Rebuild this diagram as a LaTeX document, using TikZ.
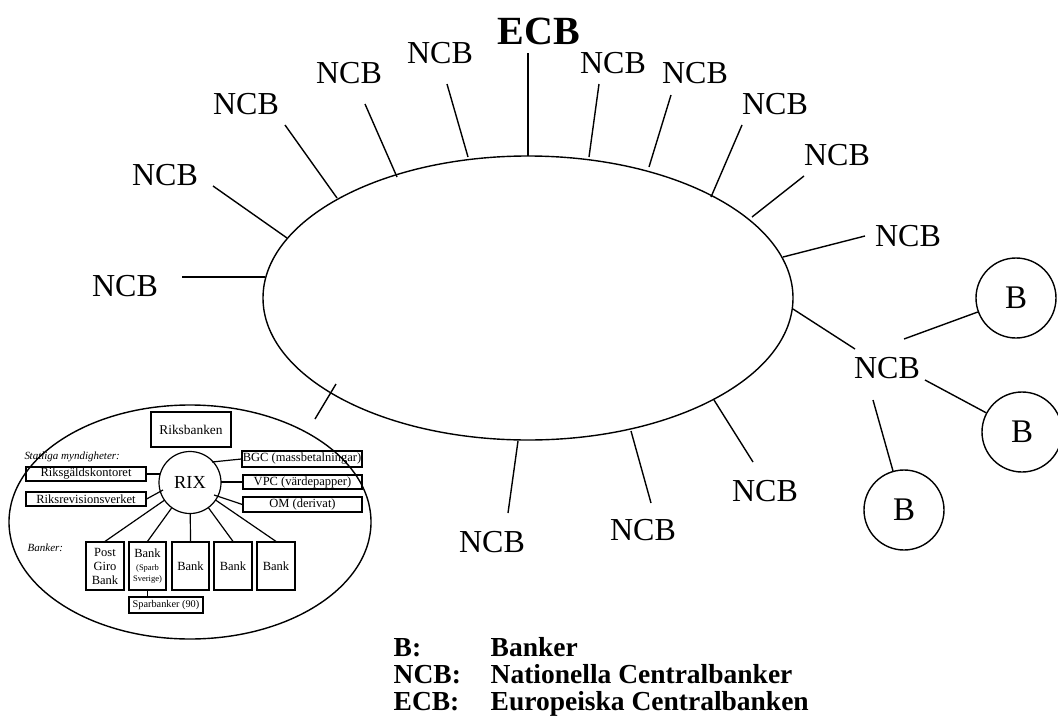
\documentclass[tikz,border=0pt]{standalone}
\usepackage{fontspec}
\setmainfont{Liberation Serif}
\begin{document}
\begin{tikzpicture}[x=1pt,y=-1pt, line width=1.4pt,
  lbl/.style={font=\fontsize{32}{36}\selectfont, inner sep=0pt},
  bnode/.style={circle, draw, minimum size=80pt, inner sep=0pt, font=\fontsize{33}{36}\selectfont},
  ibox/.style={draw, line width=1.2pt, inner sep=0pt, font=\fontsize{12.5}{14}\selectfont},
  ilbl/.style={font=\fontsize{11}{12}\selectfont\itshape, inner sep=0pt, anchor=west},
  leg/.style={font=\fontsize{27.5}{30}\selectfont\bfseries, inner sep=0pt, anchor=base west}
]
\useasboundingbox (0,0) rectangle (1058,726);

% main ellipse
\draw (528,298) ellipse [x radius=265pt, y radius=142pt];

% ECB
\node[inner sep=0pt, font=\fontsize{40}{44}\selectfont\bfseries] (ecb) at (539,31) {ECB};
\draw (528,53) -- (528,156);

% NCB labels
\node[lbl] (n1) at (125,286) {NCB};
\node[lbl] (n2) at (165,175) {NCB};
\node[lbl] (n3) at (246,104) {NCB};
\node[lbl] (n4) at (349,73) {NCB};
\node[lbl] (n5) at (440,53) {NCB};
\node[lbl] (n6) at (613,63) {NCB};
\node[lbl] (n7) at (695,73) {NCB};
\node[lbl] (n8) at (775,104) {NCB};
\node[lbl] (n9) at (837,155) {NCB};
\node[lbl] (n10) at (908,236) {NCB};
\node[lbl] (n11) at (887,368) {NCB};
\node[lbl] (n12) at (765,491) {NCB};
\node[lbl] (n13) at (643,530) {NCB};
\node[lbl] (n14) at (492,542) {NCB};

% ticks from ellipse to NCBs
\draw (182,277) -- (265,277);
\draw (213,186) -- (287,238);
\draw (285,125) -- (337,198);
\draw (365,104) -- (397,177);
\draw (447,84) -- (468,157);
\draw (599,84) -- (589,157);
\draw (671,95) -- (649,167);
\draw (742,125) -- (711,197);
\draw (804,176) -- (752,217);
\draw (865,236) -- (783,257);
\draw (793,309) -- (855,349);
\draw (714,400) -- (753,462);
\draw (631,431) -- (651,503);
\draw (518,441) -- (508,513);

% banks
\node[bnode] (b1) at (1016,298) {B};
\node[bnode] (b2) at (1022,432) {B};
\node[bnode] (b3) at (904,510) {B};
\draw (904,339) -- (b1);
\draw (925,380) -- (b2);
\draw (873,400) -- (b3);

% connection to inset
\draw (336,384) -- (315,419);

% inset ellipse
\draw (190,522) ellipse [x radius=181pt, y radius=117pt];

\node[ibox, minimum width=80pt, minimum height=35pt, font=\fontsize{13.4}{15}\selectfont] (rb) at (191,429.5) {Riksbanken};
\node[circle, draw, line width=1.2pt, minimum size=62pt, inner sep=0pt, font=\fontsize{18.4}{20}\selectfont] (rix) at (190,482.5) {RIX};

\node[ilbl] (stat) at (24,457) {S\kern-0.5pt tatliga myndigheter:};
\node[ibox, minimum width=120pt, minimum height=14pt] (rg) at (86,474) {Riksgäldskontoret};
\node[ibox, minimum width=120pt, minimum height=14pt] (rr) at (86,499) {Riksrevisionsverket};

\node[ibox, minimum width=120pt, minimum height=16pt] (bgc) at (302,459) {BGC (massbetalningar)};
\node[ibox, minimum width=119pt, minimum height=14pt] (vpc) at (302.5,482) {VPC (värdepapper)};
\node[ibox, minimum width=119pt, minimum height=15pt] (om) at (302.5,504.5) {OM (derivat)};

\node[ilbl] (bk) at (27,548) {Banker:};
\node[ibox, minimum width=38pt, minimum height=48pt, align=center] (k1) at (105,566) {Post\\Giro\\Bank};
\node[ibox, minimum width=37pt, minimum height=48pt, align=center] (k2) at (147.5,566) {Bank\\[-1pt]{\fontsize{8.5}{9.5}\selectfont (Sparb}\\[-3pt]{\fontsize{8.5}{9.5}\selectfont Sverige)}};
\node[ibox, minimum width=37pt, minimum height=48pt] (k3) at (190.5,566) {Bank};
\node[ibox, minimum width=38pt, minimum height=48pt] (k4) at (233,566) {Bank};
\node[ibox, minimum width=38pt, minimum height=48pt] (k5) at (276,566) {Bank};
\node[ibox, minimum width=74pt, minimum height=16pt, font=\fontsize{10.3}{12}\selectfont] (sp) at (166,605) {Sparbanker (90)};

\coordinate (rixW) at (160,474);
\coordinate (rixSW) at (163,490);
\coordinate (rixNE) at (212,462);
\coordinate (rixE) at (221,482);
\coordinate (rixSE) at (214,495);
\begin{scope}[line width=1.2pt]
\draw (rg.east) -- (rixW);
\draw (rr.east) -- (rixSW);
\draw (rixNE) -- (bgc.west);
\draw (rixE) -- (vpc.west);
\draw (rixSE) -- (om.west);
\draw (rix) -- (k1.north);
\draw (rix) -- (k2.north);
\draw (rix) -- (k3.north);
\draw (rix) -- (k4.north);
\draw (rix) -- (k5.north);
\draw (k2.south) -- (k2.south |- sp.north);
\end{scope}

% legend
\node[leg] (l1a) at (393,656) {B:};
\node[leg] (l1b) at (490,656) {Banker};
\node[leg] (l2a) at (393,683) {NCB:};
\node[leg] (l2b) at (490,683) {Nationella Centralbanker};
\node[leg] (l3a) at (393,710) {ECB:};
\node[leg] (l3b) at (490,710) {Europeiska Centralbanken};
\end{tikzpicture}
\end{document}
